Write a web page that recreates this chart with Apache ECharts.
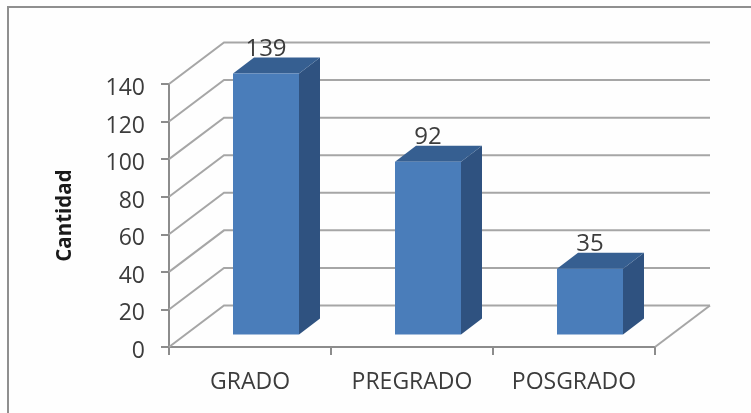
<!DOCTYPE html>
<html><head><meta charset="utf-8">
<style>html,body{margin:0;padding:0;background:#fff}#c{width:751px;height:413px}</style>
<script src="https://cdn.jsdelivr.net/npm/echarts@6/dist/echarts.min.js"></script>
</head><body><div id="c"></div>
<script>
const categories = ['GRADO', 'PREGRADO', 'POSGRADO'];
const values = [139, 92, 35];
const yTicks = [0, 20, 40, 60, 80, 100, 120, 140];
const yMax = 140, yStep = 20;
const yName = 'Cantidad';

const FONT = '"Open Sans", sans-serif';
const TEXT = '#3c3c3c', GRID = '#a6a6a6', AXIS = '#8c8c8c';
const WALL = [55, -41.5];     // depth of the plot box
const BAR_SHIFT = [16, -12.5];  // bar front face relative to the front plane
const BAR_DEPTH = [21, -16];
const BAR_W = 66;

const chart = echarts.init(document.getElementById('c'), null, {renderer: 'canvas'});
chart.setOption({
  animation: false,
  backgroundColor: '#fefefe',
  graphic: [{type: 'rect', silent: true, z: 0,
    shape: {x: 8, y: 7, width: 780, height: 440},
    style: {fill: 'none', stroke: '#8f8f8f', lineWidth: 2}}],
  grid: {left: 169, right: 96, top: 84, bottom: 66},
  xAxis: {
    type: 'category', data: categories,
    axisLine: {lineStyle: {color: AXIS, width: 2}},
    axisTick: {show: true, length: 8, alignWithLabel: false, lineStyle: {color: AXIS, width: 2}},
    axisLabel: {color: TEXT, fontFamily: FONT, fontSize: 23, margin: 24},
    splitLine: {show: false}
  },
  yAxis: {
    type: 'value', min: 0, max: yMax, interval: yStep,
    name: yName, nameLocation: 'middle', nameGap: 93, nameRotate: 90,
    nameTextStyle: {color: '#1a1a1a', fontFamily: FONT, fontWeight: 'bold', fontSize: 20.5},
    axisLine: {show: true, lineStyle: {color: AXIS, width: 2}},
    axisTick: {show: true, length: 8, lineStyle: {color: AXIS, width: 2}},
    axisLabel: {color: TEXT, fontFamily: FONT, fontSize: 23, margin: 24, verticalAlign: 'top', lineHeight: 9},
    splitLine: {show: false}
  },
  series: [
    {
      type: 'custom', silent: true, z: 1, clip: false,
      encode: {x: 0, y: 1},
      data: yTicks.map(t => [0, t]),
      renderItem(params, api) {
        const band = api.size([1, 0])[0];
        const p = api.coord([0, api.value(1)]);
        const left = p[0] - band / 2;
        const right = left + band * categories.length;
        const y = p[1];
        const children = [{
          type: 'polyline',
          shape: {points: [[left, y], [left + WALL[0], y + WALL[1]], [right + WALL[0], y + WALL[1]]]},
          style: {stroke: GRID, lineWidth: 2, fill: 'none'}
        }];
        if (api.value(1) === 0) children.push({
          type: 'line',
          shape: {x1: right, y1: y, x2: right + WALL[0], y2: y + WALL[1]},
          style: {stroke: GRID, lineWidth: 2}
        });
        return {type: 'group', children};
      }
    },
    {
      type: 'custom', silent: true, z: 3, clip: false,
      encode: {x: 0, y: 1},
      data: values.map((v, i) => [i, v]),
      renderItem(params, api) {
        const top = api.coord([api.value(0), api.value(1)]);
        const base = api.coord([api.value(0), 0]);
        const x0 = top[0] + BAR_SHIFT[0] - BAR_W / 2, x1 = x0 + BAR_W;
        const yT = top[1] + BAR_SHIFT[1], yB = base[1] + BAR_SHIFT[1];
        const [dx, dy] = BAR_DEPTH;
        return {type: 'group', children: [
          {type: 'polygon', shape: {points: [[x1, yT], [x1 + dx, yT + dy], [x1 + dx, yB + dy], [x1, yB]]},
           style: {fill: '#2f5280'}},
          {type: 'polygon', shape: {points: [[x0, yT], [x0 + dx, yT + dy], [x1 + dx, yT + dy], [x1, yT]]},
           style: {fill: '#365f91'}},
          {type: 'rect', shape: {x: x0, y: yT, width: BAR_W, height: yB - yT},
           style: {fill: '#4a7dba'}},
          {type: 'text', style: {
            text: String(api.value(1)), x: (x0 + x1) / 2, y: yT - 24.5,
            align: 'center', verticalAlign: 'middle',
            fill: TEXT, font: '24px ' + FONT}}
        ]};
      }
    }
  ]
});
</script></body></html>
